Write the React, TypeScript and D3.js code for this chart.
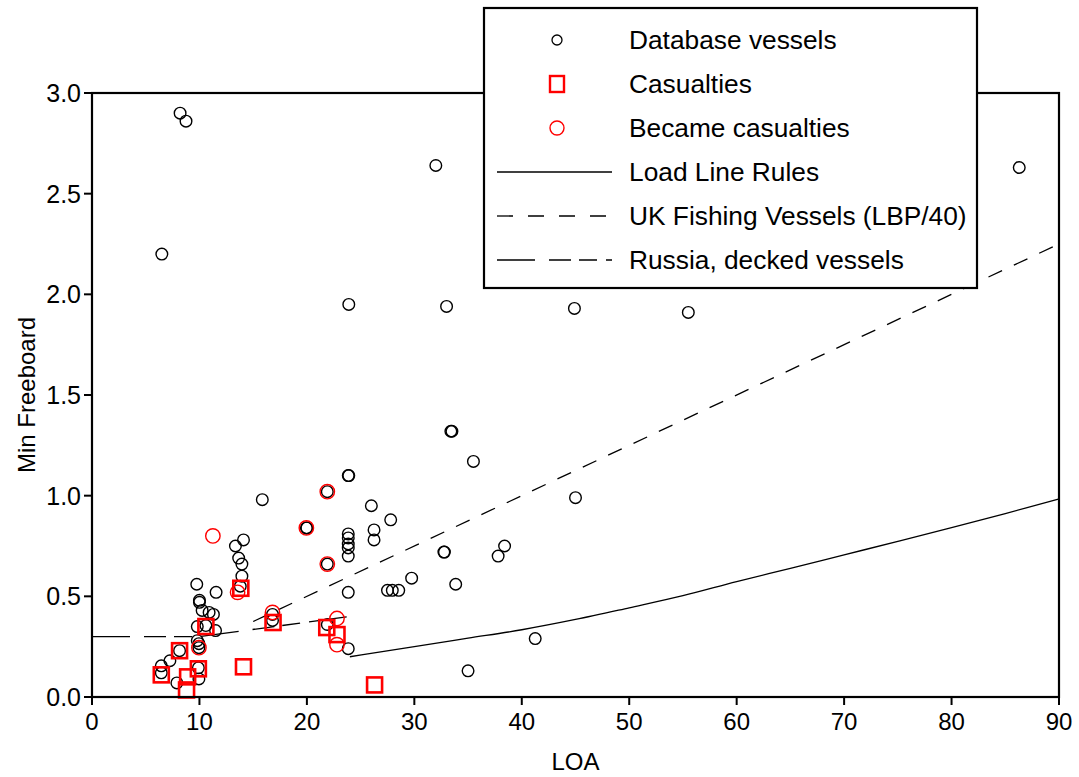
import React from "react";
import * as d3 from "d3";

// Database vessels: [LOA, min freeboard]
const databaseLOA = [
  8.2, 8.75, 6.5, 32.0, 23.9, 33.0, 44.9, 55.5, 86.3, 33.4, 33.5, 35.5, 23.85, 23.9,
  21.9, 26.0, 27.8, 26.25, 26.25, 19.95, 20.0, 23.85, 23.85, 23.85, 23.85, 23.85, 21.9,
  32.75, 32.8, 38.4, 37.8, 29.75, 33.85, 27.5, 27.95, 28.55, 23.85, 41.25, 35.0, 23.85,
  21.9, 45.0, 15.85, 14.1, 13.35, 13.65, 13.95, 13.95, 13.8, 9.75, 11.55, 10.0, 10.0,
  10.25, 10.9, 11.3, 11.5, 10.6, 9.8, 9.8, 9.95, 9.95, 16.8, 16.8, 9.9, 9.95, 8.15,
  7.25, 6.45, 6.45, 7.9,
];
const databaseFreeboard = [
  2.90, 2.86, 2.20, 2.64, 1.95, 1.94, 1.93, 1.91, 2.63, 1.32, 1.32, 1.17, 1.10, 1.10,
  1.02, 0.95, 0.88, 0.83, 0.78, 0.84, 0.84, 0.81, 0.79, 0.76, 0.74, 0.70, 0.66,
  0.72, 0.72, 0.75, 0.70, 0.59, 0.56, 0.53, 0.53, 0.53, 0.52, 0.29, 0.13, 0.24,
  0.36, 0.99, 0.98, 0.78, 0.75, 0.69, 0.66, 0.60, 0.55, 0.56, 0.52, 0.48, 0.47,
  0.43, 0.42, 0.41, 0.33, 0.355, 0.35, 0.28, 0.265, 0.245, 0.38, 0.41, 0.145, 0.09, 0.23,
  0.18, 0.155, 0.12, 0.07,
];

// Casualties
const casualtyLOA = [6.45, 8.15, 8.9, 8.8, 9.9, 10.6, 13.85, 14.1, 16.85, 21.85, 22.8, 26.3];
const casualtyFreeboard = [0.11, 0.23, 0.10, 0.035, 0.14, 0.35, 0.54, 0.15, 0.37, 0.345, 0.31, 0.06];

// Vessels that later became casualties
const becameLOA = [11.25, 13.55, 9.95, 16.8, 22.8, 22.8, 21.9, 19.95, 21.9];
const becameFreeboard = [0.80, 0.52, 0.245, 0.42, 0.39, 0.26, 1.02, 0.84, 0.66];

// Load Line Rules minimum freeboard (m) against length
const loadLineLOA = [24, 30, 35, 40, 45, 50, 55, 60, 65, 70, 75, 80, 85, 90];
const loadLineFreeboard = [0.200, 0.250, 0.292, 0.334, 0.385, 0.443, 0.503, 0.573, 0.639, 0.706, 0.773, 0.841, 0.911, 0.984];

// UK fishing vessels (LBP/40)
const ukLOA = [15, 90];
const ukFreeboard = [0.375, 2.25];

// Russia, decked vessels
const russiaLOA = [0, 10, 24];
const russiaFreeboard = [0.30, 0.30, 0.40];

const xTicks = [0, 10, 20, 30, 40, 50, 60, 70, 80, 90];
const yTicks = [0, 0.5, 1.0, 1.5, 2.0, 2.5, 3.0];

const legendLabels = [
  "Database vessels",
  "Casualties",
  "Became casualties",
  "Load Line Rules",
  "UK Fishing Vessels (LBP/40)",
  "Russia, decked vessels",
];

const W = 1079;
const H = 777;
const FONT = "Arial, 'Liberation Sans', Helvetica, sans-serif";
const RED = "#ff0000";

export default function App() {
  const x = d3.scaleLinear().domain([0, 90]).range([92, 1059]);
  const y = d3.scaleLinear().domain([0, 3]).range([697, 93]);

  const line = d3
    .line<[number, number]>()
    .x((d) => x(d[0]))
    .y((d) => y(d[1]));
  const curve = d3
    .line<[number, number]>()
    .x((d) => x(d[0]))
    .y((d) => y(d[1]))
    .curve(d3.curveMonotoneX);

  const zip = (a: number[], b: number[]) => a.map((v, i) => [v, b[i]] as [number, number]);

  const loadLine = curve(zip(loadLineLOA, loadLineFreeboard)) || "";
  const ukLine = line(zip(ukLOA, ukFreeboard)) || "";
  const russiaLine = line(zip(russiaLOA, russiaFreeboard)) || "";

  const db = zip(databaseLOA, databaseFreeboard);
  const cas = zip(casualtyLOA, casualtyFreeboard);
  const became = zip(becameLOA, becameFreeboard);

  const [x0, x1] = x.range();
  const [y0, y1] = y.range();

  const UK_DASH = "15,13";
  const RU_DASH = "38,14,22,8,18,9";

  const legendX = 484;
  const legendY = 8;
  const legendW = 493;
  const legendH = 280;
  const rowY = (i: number) => 40 + i * 44;
  const symX = 557;
  const textX = 629;

  return (
    <svg
      width={W}
      height={H}
      style={{ position: "absolute", left: 0, top: 0, background: "#fff" }}
      fontFamily={FONT}
    >
      <rect x={0} y={0} width={W} height={H} fill="#fff" />

      {/* guideline curves */}
      <path d={loadLine} fill="none" stroke="#000" strokeWidth={1.3} />
      <path d={ukLine} fill="none" stroke="#000" strokeWidth={1.3} strokeDasharray={UK_DASH} />
      <path d={russiaLine} fill="none" stroke="#000" strokeWidth={1.3} strokeDasharray={RU_DASH} />

      {/* database vessels */}
      {db.map((d, i) => (
        <circle key={"db" + i} cx={x(d[0])} cy={y(d[1])} r={5.8} fill="none" stroke="#000" strokeWidth={1.4} />
      ))}
      {/* became casualties */}
      {became.map((d, i) => (
        <circle key={"bc" + i} cx={x(d[0])} cy={y(d[1])} r={7.2} fill="none" stroke={RED} strokeWidth={1.4} />
      ))}
      {/* casualties */}
      {cas.map((d, i) => (
        <rect
          key={"cs" + i}
          x={x(d[0]) - 7.5}
          y={y(d[1]) - 7.5}
          width={15}
          height={15}
          fill="none"
          stroke={RED}
          strokeWidth={2.6}
        />
      ))}

      {/* plot frame */}
      <rect x={x0} y={y1} width={x1 - x0} height={y0 - y1} fill="none" stroke="#000" strokeWidth={2.2} />

      {/* x axis */}
      {xTicks.map((t) => (
        <g key={"xt" + t}>
          <line x1={x(t)} x2={x(t)} y1={y0} y2={y0 + 8} stroke="#000" strokeWidth={2} />
          <text x={x(t)} y={730} textAnchor="middle" fontSize={24} fill="#000">
            {t}
          </text>
        </g>
      ))}
      <text x={(x0 + x1) / 2} y={770} textAnchor="middle" fontSize={24} fill="#000">
        LOA
      </text>

      {/* y axis */}
      {yTicks.map((t) => (
        <g key={"yt" + t}>
          <line x1={x0 - 8} x2={x0} y1={y(t)} y2={y(t)} stroke="#000" strokeWidth={2} />
          <text x={81} y={y(t)} textAnchor="end" dominantBaseline="central" fontSize={25} fill="#000">
            {t.toFixed(1)}
          </text>
        </g>
      ))}
      <text
        transform={`translate(26, ${(y0 + y1) / 2}) rotate(-90)`}
        textAnchor="middle"
        dominantBaseline="central"
        fontSize={24}
        fill="#000"
      >
        Min Freeboard
      </text>

      {/* legend */}
      <rect x={legendX} y={legendY} width={legendW} height={legendH} fill="#fff" stroke="#000" strokeWidth={2.2} />
      <circle cx={symX} cy={rowY(0)} r={5} fill="none" stroke="#000" strokeWidth={1.3} />
      <rect x={symX - 7} y={rowY(1) - 8} width={14} height={16} fill="none" stroke={RED} strokeWidth={2.4} />
      <circle cx={symX} cy={rowY(2)} r={7} fill="none" stroke={RED} strokeWidth={1.4} />
      <line x1={497} x2={612} y1={rowY(3)} y2={rowY(3)} stroke="#000" strokeWidth={1.3} />
      <line x1={497} x2={612} y1={rowY(4)} y2={rowY(4)} stroke="#000" strokeWidth={1.3} strokeDasharray="16,15" />
      <line x1={497} x2={612} y1={rowY(5)} y2={rowY(5)} stroke="#000" strokeWidth={1.3} strokeDasharray={RU_DASH} />
      {legendLabels.map((l, i) => (
        <text key={l} x={textX} y={rowY(i)} dominantBaseline="central" fontSize={26.3} fill="#000">
          {l}
        </text>
      ))}
    </svg>
  );
}
